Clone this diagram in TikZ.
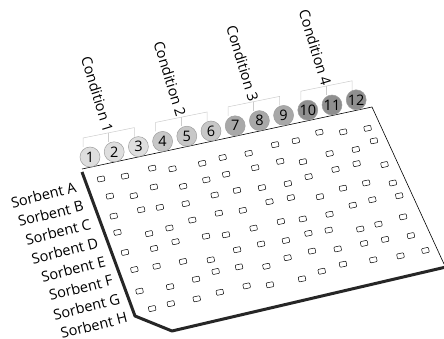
\documentclass[tikz,border=0pt]{standalone}
\usepackage{fontspec}
\setmainfont{Open Sans}
\usetikzlibrary{calc}

\definecolor{grp0}{gray}{0.87}
\definecolor{grp1}{gray}{0.78}
\definecolor{grp2}{gray}{0.66}
\definecolor{grp3}{gray}{0.56}

\begin{document}
\begin{tikzpicture}[x=1pt,y=-1pt,font=\fontsize{14.5}{16}\selectfont,
  well/.style={draw,line width=0.5pt,rounded corners=0.8pt,minimum width=7pt,
    minimum height=5pt,inner sep=0pt,rotate=12},
  colnum/.style={circle,draw=gray!75,line width=0.5pt,minimum size=20pt,inner sep=0pt,
    font=\fontsize{14.5}{16}\selectfont},
  bracket/.style={draw=gray!40,line width=0.5pt},
  rim/.style={line width=3pt,black!85,line join=round}]
\useasboundingbox (0,0) rectangle (444,339);

% Plate outline
\draw[line width=0.6pt] (82,169) -- (372,107) -- (444,264);
\draw[rim] (82,172) -- (135,316) -- (172,331) -- (446,267);

% Wells (8 x 12)
\pgfmathsetseed{42}
\foreach \r in {0,...,7}{
  \foreach \c in {0,...,11}{
    \pgfmathsetmacro{\wx}{100+24.6*\c+7.2*\r+4.5*rand}
    \pgfmathsetmacro{\wy}{181-5.1*\c+18.2*\r+3.5*rand}
    \node[well] (w\r-\c) at (\wx,\wy) {};
  }
}

% Column numbers
\foreach \i in {1,...,12}{
  \pgfmathtruncatemacro{\g}{(\i-1)/3}
  \node[colnum,fill=grp\g] (c\i) at ({90+24.2*(\i-1)},{157-5.2*(\i-1)}) {\i};
}

% Condition brackets
\foreach \g/\a/\b/\z in {1/1/2/3,2/4/5/6,3/7/8/9,4/10/11/12}{
  \draw[bracket] ($(c\a)+(-7,-10)$) -- ++(0,-9) -- ($(c\z)+(-4,-19)$) -- ++(0,9);
  \draw[bracket] ($(c\b)+(-6,-10)$) -- ++(0,-9);
  \node[rotate=-73,anchor=east,inner sep=1pt] (cond\g) at ($(c\b)+(-5,-19)$) {Condition \g};
}

% Row labels
\foreach \s [count=\r from 0] in {A,B,C,D,E,F,G,H}
  \node[rotate=14,anchor=east,inner sep=1pt] (sorb\s) at ({77+7.3*\r},{186.5+18.6*\r}) {Sorbent \s};

\end{tikzpicture}
\end{document}
